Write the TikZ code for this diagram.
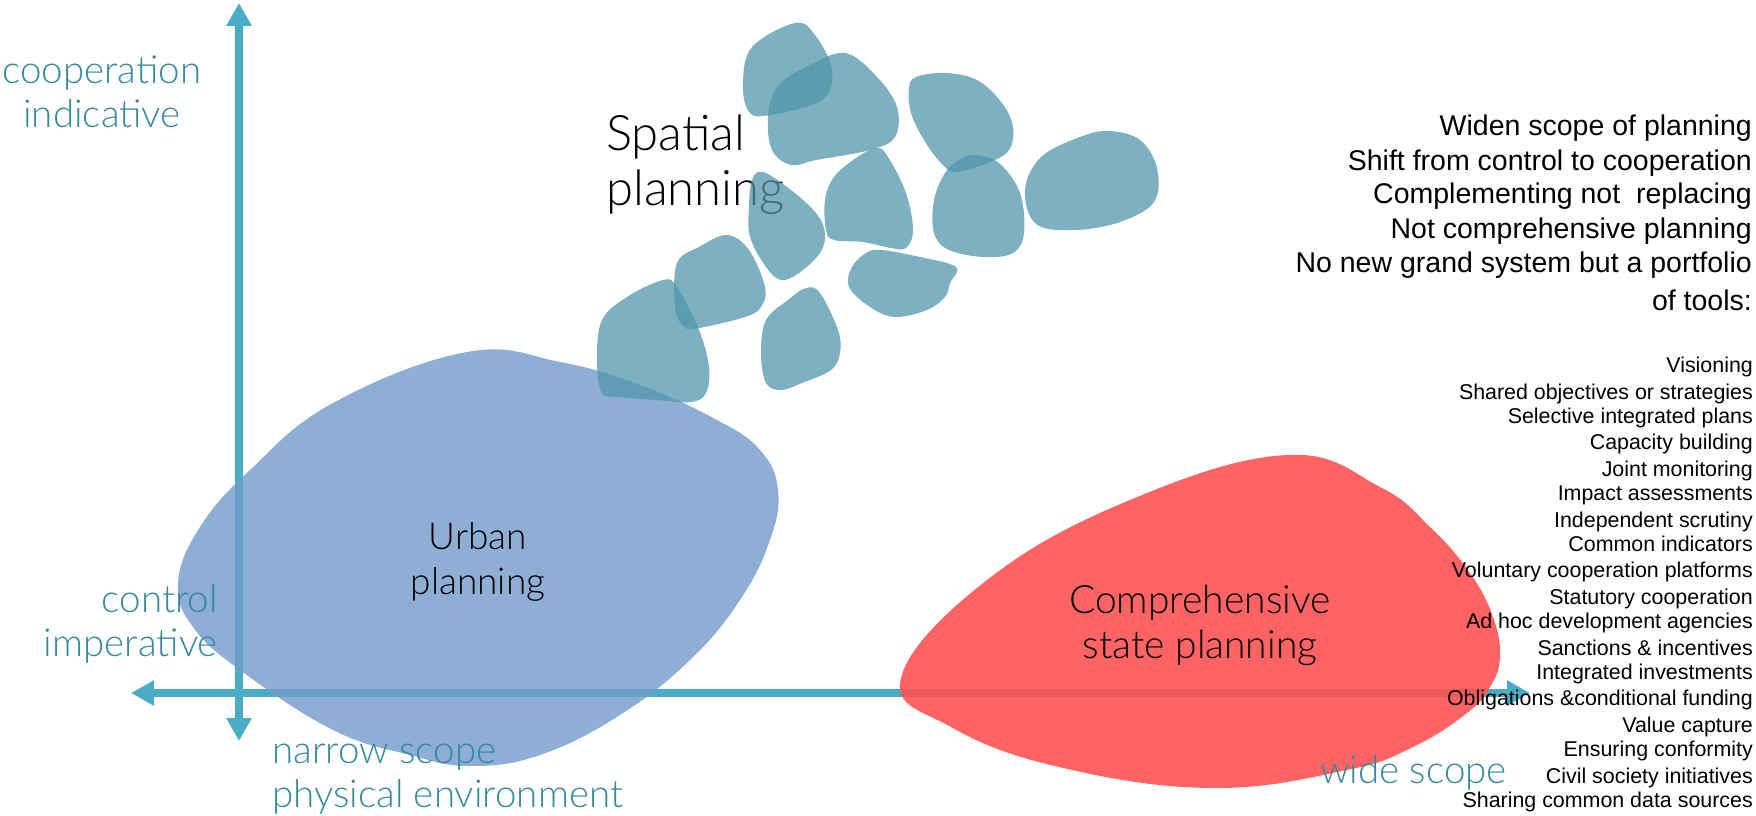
\documentclass[tikz,border=0pt]{standalone}
\usepackage{fontspec}
\setmainfont{Liberation Sans}
\newfontfamily\lightfont{Lato Light}
\usetikzlibrary{arrows.meta}
\definecolor{axisblue}{RGB}{75,172,198}
\definecolor{labelteal}{RGB}{52,138,160}
\definecolor{urbanblue}{RGB}{115,154,202}
\definecolor{statered}{RGB}{255,82,82}
\definecolor{spatialteal}{RGB}{81,149,171}
\tikzset{
  axis/.style={line width=8pt, axisblue, {Triangle[length=23pt,width=24pt]}-{Triangle[length=23pt,width=24pt]}},
  axislabel/.style={font=\lightfont\fontsize{38.5}{44}\selectfont, text=labelteal, inner sep=0pt},
  blobtext/.style={font=\lightfont\fontsize{37}{45}\selectfont, inner sep=0pt, align=center, anchor=base},
  urbanblob/.style={fill=urbanblue, fill opacity=.8},
  stateblob/.style={fill=statered, fill opacity=.9},
  spatialblob/.style={fill=spatialteal, fill opacity=.75},
  tooltext/.style={font=\fontsize{21.4}{24}\selectfont, inner sep=0pt, anchor=base east},
  aimtext/.style={font=\fontsize{28.5}{34}\selectfont, inner sep=0pt, anchor=base east}
}
\begin{document}
\begin{tikzpicture}[x=1pt, y=-1pt, line join=round]
	\useasboundingbox (0,0) rectangle (1756,816);
	% axes
	\coordinate (left) at (131,693);
	\coordinate (right) at (1530,693);
	\coordinate (top) at (239,3);
	\coordinate (bottom) at (239,741);
	\draw[axis] (left) -- (right);
	\draw[axis] (bottom) -- (top);
	% the three kinds of planning
	\fill[urbanblob] plot[smooth cycle, tension=0.7] coordinates{(467,352) (560,362) (640,385) (717,420) (760,450) (778,490) (770,540) (740,600) (690,660) (620,715) (540,755) (470,766) (410,755) (333,730) (240,670) (193,627) (178,583) (200,527) (250,470) (333,403)};
	\fill[stateblob] plot[smooth cycle, tension=0.7] coordinates{(901,678) (987,580) (1130,500) (1287,455) (1380,487) (1430,527) (1470,573) (1493,617) (1500,657) (1490,687) (1467,713) (1413,747) (1347,770) (1212,788) (1059,767) (951,727)};
	% multi-line nodes sit on the baseline of their last line
	\node[blobtext, font=\lightfont\fontsize{49}{55}\selectfont, align=left, anchor=base west] (spatial) at (606,205) {Spatial\\planning};
	\fill[spatialblob] plot[smooth cycle, tension=0.6] coordinates{(752,47) (795,23) (815,35) (832,70) (822,100) (770,115) (749,112) (743,83)};
	\fill[spatialblob] plot[smooth cycle, tension=0.6] coordinates{(806,67) (845,53) (877,77) (897,107) (895,137) (870,150) (816,160) (791,165) (772,150) (768,117) (777,87)};
	\fill[spatialblob] plot[smooth cycle, tension=0.6] coordinates{(916,77) (945,73) (977,80) (1002,103) (1013,127) (1009,150) (988,163) (956,172) (941,163) (924,140) (911,113) (909,88)};
	\fill[spatialblob] plot[smooth cycle, tension=0.6] coordinates{(1041,157) (1080,137) (1109,131) (1140,140) (1157,168) (1154,202) (1120,222) (1075,230) (1036,224) (1025,190)};
	\fill[spatialblob] plot[smooth cycle, tension=0.6] coordinates{(856,158) (877,148) (888,157) (906,193) (913,230) (906,248) (891,248) (863,242) (834,240) (826,230) (825,200) (834,177)};
	\fill[spatialblob] plot[smooth cycle, tension=0.6] coordinates{(959,160) (974,155) (999,163) (1020,193) (1024,233) (1013,253) (984,257) (949,250) (934,233) (934,200) (945,173)};
	\fill[spatialblob] plot[smooth cycle, tension=0.6] coordinates{(752,180) (763,172) (791,190) (816,213) (825,233) (820,253) (799,273) (781,280) (766,267) (750,237) (749,207)};
	\fill[spatialblob] plot[smooth cycle, tension=0.6] coordinates{(852,267) (866,253) (881,250) (920,257) (956,267) (950,283) (945,297) (927,310) (895,317) (870,307) (849,287)};
	\fill[spatialblob] plot[smooth cycle, tension=0.6] coordinates{(699,247) (727,235) (749,250) (765,287) (761,307) (745,317) (699,328) (684,327) (675,307) (677,263)};
	\fill[spatialblob] plot[smooth cycle, tension=0.6] coordinates{(627,297) (663,280) (677,287) (699,330) (709,367) (706,393) (691,402) (656,400) (620,397) (602,393) (597,360) (602,320)};
	\fill[spatialblob] plot[smooth cycle, tension=0.6] coordinates{(788,300) (806,288) (820,293) (838,330) (840,353) (831,370) (802,383) (781,390) (766,383) (761,353) (766,320)};
	\node[blobtext] (urban) at (478,594) {Urban\\planning};
	\node[blobtext, font=\lightfont\fontsize{39}{45}\selectfont] (state) at (1200,658) {Comprehensive\\state planning};
	% axis labels
	\node[axislabel, align=center, anchor=base] (coop) at (102,127) {cooperation\\indicative};
	\node[axislabel, align=right, anchor=base east] (control) at (218,656) {control\\imperative};
	\node[axislabel, align=left, anchor=base west] (narrow) at (272,807) {narrow scope\\physical environment};
	\node[axislabel, anchor=base west] (wide) at (1320,783) {wide scope};
	% aims and tools
	\foreach \y/\t [count=\i] in {135/Widen scope of planning, 170/Shift from control to cooperation, 203/Complementing not\ \ replacing, 238/Not comprehensive planning, 272/No new grand system but a portfolio, 310/of tools:}
		\node[aimtext] (aim\i) at (1752,\y) {\t};
	\foreach \y/\t [count=\i] in {372/Visioning, 399/Shared objectives or strategies, 423/Selective integrated plans, 449/Capacity building, 476/Joint monitoring, 500/Impact assessments, 527/Independent scrutiny, 551/Common indicators, 577/Voluntary cooperation platforms, 604/Statutory cooperation, 628/Ad hoc development agencies, 655/Sanctions \& incentives, 679/Integrated investments, 705/Obligations \&conditional funding, 732/Value capture, 756/Ensuring conformity, 783/Civil society initiatives, 807/Sharing common data sources}
		\node[tooltext] (tool\i) at (1753,\y) {\t};
\end{tikzpicture}
\end{document}
